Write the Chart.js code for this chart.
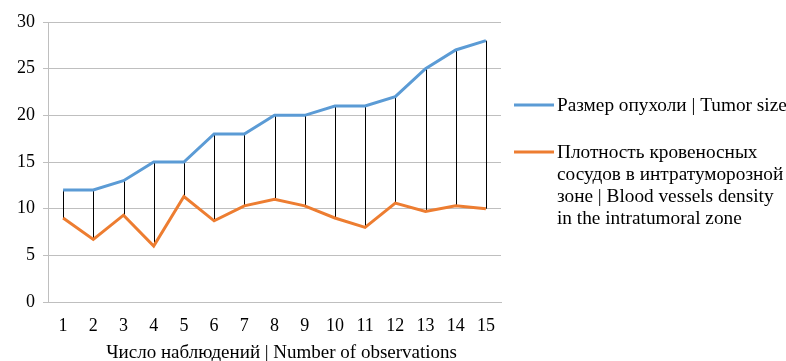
<!DOCTYPE html>
<html>
<head>
<meta charset="utf-8">
<script src="https://cdn.jsdelivr.net/npm/chart.js@4/dist/chart.umd.min.js"></script>
<style>
  html, body { margin: 0; padding: 0; background: #fff; }
  #wrap { width: 786px; height: 361px; }
</style>
</head>
<body>
<div id="wrap"><canvas id="chart"></canvas></div>
<script>
const observations = ['1','2','3','4','5','6','7','8','9','10','11','12','13','14','15'];
const tumorSize = [12, 12, 13, 15, 15, 18, 18, 20, 20, 21, 21, 22, 25, 27, 28];
const vesselDensity = [9, 6.7, 9.3, 6, 11.3, 8.7, 10.3, 11, 10.3, 9, 8, 10.6, 9.7, 10.3, 10];
const legendLabels = [
  ['Размер опухоли | Tumor size'],
  ['Плотность кровеносных', 'сосудов в интратуморозной', 'зоне | Blood vessels density', 'in the intratumoral zone']
];
const colors = ['#5b9bd5', '#ed7d31'];

const font = "'Liberation Serif', 'Times New Roman', serif";

// vertical high-low lines between the two series
const dropLines = {
  id: 'dropLines',
  beforeDatasetsDraw(chart) {
    const a = chart.getDatasetMeta(0).data;
    const b = chart.getDatasetMeta(1).data;
    const ctx = chart.ctx;
    ctx.save();
    ctx.strokeStyle = '#000';
    ctx.lineWidth = 1;
    for (let i = 0; i < a.length; i++) {
      const x = Math.round(a[i].x) + 0.5;
      ctx.beginPath();
      ctx.moveTo(x, a[i].y);
      ctx.lineTo(x, b[i].y);
      ctx.stroke();
    }
    ctx.restore();
  }
};

// legend on the right, as in the original
const sideLegend = {
  id: 'sideLegend',
  afterDraw(chart) {
    const ctx = chart.ctx;
    const x0 = chart.chartArea.right + 13;
    const starts = [105, 152];
    ctx.save();
    ctx.font = '19.3px ' + font;
    ctx.textBaseline = 'middle';
    ctx.fillStyle = '#000';
    legendLabels.forEach((lines, k) => {
      ctx.strokeStyle = colors[k];
      ctx.lineWidth = 3;
      ctx.beginPath();
      ctx.moveTo(x0, starts[k]);
      ctx.lineTo(x0 + 40, starts[k]);
      ctx.stroke();
      lines.forEach((t, j) => ctx.fillText(t, x0 + 43, starts[k] + 1 + j * 22));
    });
    ctx.restore();
  }
};

new Chart(document.getElementById('chart'), {
  type: 'line',
  data: {
    labels: observations,
    datasets: [
      { label: legendLabels[0].join(' '), data: tumorSize, borderColor: colors[0], borderWidth: 3, pointRadius: 0, tension: 0 },
      { label: legendLabels[1].join(' '), data: vesselDensity, borderColor: colors[1], borderWidth: 3, pointRadius: 0, tension: 0 }
    ]
  },
  plugins: [dropLines, sideLegend],
  options: {
    responsive: true,
    maintainAspectRatio: false,
    animation: false,
    layout: { padding: { left: 0, right: 285, top: 22, bottom: 0 } },
    plugins: { legend: { display: false }, tooltip: { enabled: false } },
    scales: {
      x: {
        offset: true,
        grid: { display: false, drawTicks: false },
        border: { color: '#bfbfbf' },
        ticks: { color: '#000', font: { family: font, size: 18 }, padding: 13, maxRotation: 0 },
        title: { display: true, text: '\u00a0\u00a0\u00a0Число наблюдений | Number of observations', color: '#000', font: { family: font, size: 19 }, padding: { top: 2, bottom: -3 } },
        afterFit(s) { s.height = 59; }
      },
      y: {
        min: 0, max: 30,
        ticks: { stepSize: 5, color: '#000', font: { family: font, size: 18 }, padding: 8 },
        grid: { color: '#bfbfbf', tickLength: 5 },
        border: { color: '#bfbfbf' },
        afterFit(s) { s.width = 48; }
      }
    }
  }
});
</script>
</body>
</html>
